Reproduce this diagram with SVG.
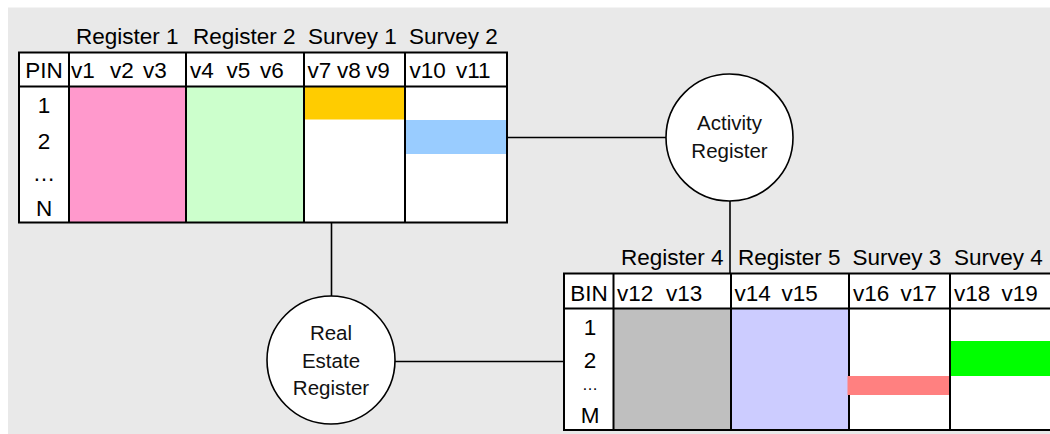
<svg xmlns="http://www.w3.org/2000/svg" width="1050" height="434" viewBox="0 0 1050 434">
<style>
.t{font-family:"Liberation Sans",Arial,sans-serif;font-size:22.5px;fill:#000}
.c{font-family:"Liberation Sans",Arial,sans-serif;font-size:20.5px;fill:#111;text-anchor:middle}
.m{text-anchor:middle}
.grid{fill:none;stroke:#000;stroke-width:2}
.conn{stroke:#000;stroke-width:1.6;fill:none}
.node{fill:#fff;stroke:#000;stroke-width:1.6}
</style>
<rect x="0" y="0" width="1050" height="434" fill="#fff"/>
<rect x="8" y="7.5" width="1042" height="427" fill="#e9e9e9"/>

<g id="connectors">
<line class="conn" x1="507" y1="137.5" x2="667" y2="137.5"/>
<line class="conn" x1="730" y1="201" x2="730" y2="273.5"/>
<line class="conn" x1="331.5" y1="222.5" x2="331.5" y2="296"/>
<line class="conn" x1="395" y1="361.5" x2="564" y2="361.5"/>
</g>

<g id="table-pin">
<rect x="19" y="52.5" width="488" height="170" fill="#fff"/>
<rect x="69" y="86.5" width="117" height="136" fill="#ff99cc"/>
<rect x="186" y="86.5" width="118" height="136" fill="#ccffcc"/>
<rect x="304" y="86.5" width="101" height="33" fill="#ffcc00"/>
<rect x="405" y="120" width="102" height="34" fill="#99ccff"/>
<rect class="grid" x="19" y="52.5" width="488" height="170"/>
<line class="grid" x1="19" y1="86.5" x2="507" y2="86.5"/>
<line class="grid" x1="69" y1="52.5" x2="69" y2="222.5"/>
<line class="grid" x1="186" y1="52.5" x2="186" y2="222.5"/>
<line class="grid" x1="304" y1="52.5" x2="304" y2="222.5"/>
<line class="grid" x1="405" y1="52.5" x2="405" y2="222.5"/>
<text class="t" x="76" y="44">Register 1</text>
<text class="t" x="193" y="44">Register 2</text>
<text class="t" x="308" y="44">Survey 1</text>
<text class="t" x="409" y="44">Survey 2</text>
<text class="t m" x="44" y="78">PIN</text>
<text class="t" x="71" y="78">v1</text>
<text class="t" x="110" y="78">v2</text>
<text class="t" x="143" y="78">v3</text>
<text class="t" x="190" y="78">v4</text>
<text class="t" x="226.5" y="78">v5</text>
<text class="t" x="260" y="78">v6</text>
<text class="t" x="307.5" y="78">v7</text>
<text class="t" x="337" y="78">v8</text>
<text class="t" x="366" y="78">v9</text>
<text class="t" x="409.5" y="78">v10</text>
<text class="t" x="456" y="78">v11</text>
<text class="t m" x="44" y="113">1</text>
<text class="t m" x="44" y="148.5">2</text>
<text class="t m" x="44" y="181">…</text>
<text class="t m" x="44" y="216">N</text>
</g>

<g id="table-bin">
<rect x="564" y="273.5" width="500" height="156.5" fill="#fff"/>
<rect x="613.5" y="308.5" width="117.5" height="121.5" fill="#bfbfbf"/>
<rect x="731" y="308.5" width="118" height="121.5" fill="#ccccff"/>
<rect x="950" y="341" width="110" height="35" fill="#00ff00"/>
<rect class="grid" x="564" y="273.5" width="500" height="156.5"/>
<line class="grid" x1="564" y1="308.5" x2="1064" y2="308.5"/>
<line class="grid" x1="613.5" y1="273.5" x2="613.5" y2="430"/>
<line class="grid" x1="731" y1="273.5" x2="731" y2="430"/>
<line class="grid" x1="849" y1="273.5" x2="849" y2="430"/>
<line class="grid" x1="950" y1="273.5" x2="950" y2="430"/>
<rect x="847.5" y="376" width="101.5" height="19" fill="#ff8080"/>
<text class="t" x="621" y="265">Register 4</text>
<text class="t" x="738" y="265">Register 5</text>
<text class="t" x="852.5" y="265">Survey 3</text>
<text class="t" x="954" y="265">Survey 4</text>
<text class="t m" x="589" y="300.5">BIN</text>
<text class="t" x="617" y="300.5">v12</text>
<text class="t" x="666" y="300.5">v13</text>
<text class="t" x="734.5" y="300.5">v14</text>
<text class="t" x="781.5" y="300.5">v15</text>
<text class="t" x="853" y="300.5">v16</text>
<text class="t" x="900.5" y="300.5">v17</text>
<text class="t" x="954" y="300.5">v18</text>
<text class="t" x="1001.5" y="300.5">v19</text>
<text class="t m" x="590" y="334.5">1</text>
<text class="t m" x="590" y="368">2</text>
<text class="t m" x="590" y="390" style="font-size:16px">…</text>
<text class="t m" x="590" y="422.5">M</text>
</g>

<g id="activity-register">
<circle class="node" cx="729.5" cy="137.5" r="63.5"/>
<text class="c" x="729.5" y="130">Activity</text>
<text class="c" x="729.5" y="157.5">Register</text>
</g>

<g id="real-estate-register">
<circle class="node" cx="331" cy="360" r="64"/>
<text class="c" x="331" y="339.5">Real</text>
<text class="c" x="331" y="367.5">Estate</text>
<text class="c" x="331" y="394.5">Register</text>
</g>
</svg>
